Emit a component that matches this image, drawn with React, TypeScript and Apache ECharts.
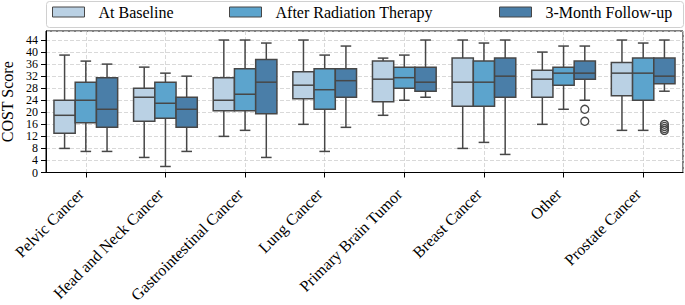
import React, { useEffect, useRef } from "react";
import * as echarts from "echarts";

const categories = [
  "Pelvic Cancer",
  "Head and Neck Cancer",
  "Gastrointestinal Cancer",
  "Lung Cancer",
  "Primary Brain Tumor",
  "Breast Cancer",
  "Other",
  "Prostate Cancer",
];

const seriesNames = ["At Baseline", "After Radiation Therapy", "3-Month Follow-up"];

// [min, q1, median, q3, max]
const baseline = [
  [8, 13, 19, 24, 39],
  [5, 17, 25, 28, 35],
  [12, 20.5, 24, 31.5, 44],
  [16, 24.5, 29, 33.5, 44],
  [19, 23.5, 31, 37, 38],
  [8, 22, 30, 38, 44],
  [16, 25, 31, 34, 40],
  [14, 25.5, 33, 36.5, 44],
];
const afterRT = [
  [7, 16.5, 24, 30, 37],
  [2, 18, 23, 30, 33],
  [14, 20.5, 26, 34.5, 44],
  [7, 21, 27.5, 34.5, 39],
  [24, 28, 31.5, 35, 39],
  [10, 22, 30, 37, 43],
  [21, 29, 33, 35, 42],
  [14, 24, 33, 38, 43],
];
const followUp = [
  [7, 15, 21, 31.5, 36],
  [7, 15, 21, 25, 32],
  [5, 19.5, 30, 37.5, 43],
  [15, 25, 30.5, 34.5, 42],
  [25, 27, 30, 35, 44],
  [6, 25, 32, 38, 44],
  [24, 31, 33, 37, 42],
  [27, 29.5, 32, 38, 44],
];
// [categoryIndex, hueIndex, value]
const outliers = [
  [6, 2, 21],
  [6, 2, 17],
  [7, 2, 16],
  [7, 2, 15.3],
  [7, 2, 14.6],
  [7, 2, 14],
];

const yTicks = [0, 4, 8, 12, 16, 20, 24, 28, 32, 36, 40, 44];

const colors = ["#bad1e4", "#5ca4cd", "#4a7ea8"];
const edge = "#474747";
const FONT = "Liberation Serif";

export default function App() {
  const ref = useRef<HTMLDivElement>(null);
  useEffect(() => {
    if (!ref.current) return;
    const chart = echarts.init(ref.current, null, { renderer: "svg" });
    const allData = [baseline, afterRT, followUp];

    const boxSeries = allData.map((arr, h) => ({
      type: "custom",
      name: seriesNames[h],
      z: 3,
      itemStyle: { color: colors[h] },
      encode: { x: 0, y: [1, 2, 3, 4, 5] },
      data: arr.map((d, i) => [i, ...d]),
      renderItem: (params: any, api: any) => {
        const cat = api.value(0);
        const band = api.size([1, 0])[0];
        const bw = (band * 0.8) / 3;
        const cx = api.coord([cat, 0])[0] + (h - 1) * bw;
        const y = (k: number) => api.coord([cat, api.value(k)])[1];
        const yMin = y(1), yQ1 = y(2), yMed = y(3), yQ3 = y(4), yMax = y(5);
        const ls = { stroke: edge, lineWidth: 1.5 };
        const cap = bw / 4;
        return {
          type: "group",
          children: [
            { type: "line", shape: { x1: cx, y1: yQ3, x2: cx, y2: yMax }, style: ls },
            { type: "line", shape: { x1: cx, y1: yQ1, x2: cx, y2: yMin }, style: ls },
            { type: "line", shape: { x1: cx - cap, y1: yMax, x2: cx + cap, y2: yMax }, style: ls },
            { type: "line", shape: { x1: cx - cap, y1: yMin, x2: cx + cap, y2: yMin }, style: ls },
            {
              type: "rect",
              shape: { x: cx - bw / 2, y: yQ3, width: bw, height: yQ1 - yQ3 },
              style: { fill: colors[h], stroke: edge, lineWidth: 1.5 },
            },
            { type: "line", shape: { x1: cx - bw / 2, y1: yMed, x2: cx + bw / 2, y2: yMed }, style: ls },
          ],
        };
      },
    }));

    const option: any = {
      animation: false,
      textStyle: { fontFamily: FONT },
      grid: {
        left: 46,
        right: 2,
        top: 31,
        bottom: 132.5,
        containLabel: false,
        outerBoundsMode: "none",
        show: true,
        borderColor: "#000",
        borderWidth: 1,
      },
      legend: seriesNames.map((n, i) => ({
        left: [52, 229, 499][i],
        top: 4,
        padding: 0,
        icon: "rect",
        itemWidth: 32,
        itemHeight: 10,
        selectedMode: false,
        textStyle: { fontFamily: FONT, fontSize: 16, color: "#000", lineHeight: 16, padding: [0, 0, 0, 9] },
        data: [{ name: n, itemStyle: { color: colors[i], borderColor: edge, borderWidth: 1 } }],
      })),
      graphic: [
        {
          type: "rect",
          left: 46,
          top: 1,
          z: -1,
          shape: { width: 637, height: 26, r: 3 },
          style: { fill: "#fff", stroke: "#d0d0d0", lineWidth: 1 },
        },
      ],
      xAxis: [
        {
          type: "category",
          data: categories,
          boundaryGap: true,
          axisLine: { show: true, lineStyle: { color: "#000", width: 1 } },
          axisTick: { show: true, alignWithLabel: true, length: 5, lineStyle: { color: "#000" } },
          axisLabel: {
            interval: 0,
            rotate: 45,
            margin: 14,
            padding: [0, 7, 0, 0],
            fontFamily: FONT,
            fontSize: 16,
            color: "#000",
          },
          splitLine: { show: false },
        },
        {
          type: "category",
          position: "top",
          data: categories.flatMap((c) => [c + "-a", c + "-b"]),
          boundaryGap: true,
          axisLine: { show: false },
          axisTick: { show: false },
          axisLabel: { show: false },
          splitLine: {
            show: true,
            interval: (index: number) => index % 2 === 1,
            lineStyle: { type: [4, 2], color: "#cfcfcf", width: 0.8 },
          },
        },
      ],
      yAxis: {
        type: "value",
        min: 0,
        max: 47,
        interval: 4,
        name: "COST Score",
        nameLocation: "middle",
        nameGap: 31,
        nameTextStyle: { fontFamily: FONT, fontSize: 16, color: "#000" },
        axisLine: { show: true, lineStyle: { color: "#000", width: 1 } },
        axisTick: { show: true, length: 5, lineStyle: { color: "#000" } },
        axisLabel: {
          fontFamily: FONT,
          fontSize: 12,
          lineHeight: 10,
          color: "#000",
          showMinLabel: true,
          showMaxLabel: false,
          hideOverlap: false,
          formatter: (v: number) => (yTicks.includes(v) ? String(v) : ""),
        },
        splitLine: { show: true, lineStyle: { type: [4, 2], color: "#cfcfcf", width: 0.8 } },
      },
      series: [
        ...boxSeries,
        {
          type: "custom",
          name: "outliers",
          z: 4,
          encode: { x: 0, y: 2 },
          data: outliers,
          renderItem: (params: any, api: any) => {
            const cat = api.value(0);
            const h = api.value(1);
            const band = api.size([1, 0])[0];
            const bw = (band * 0.8) / 3;
            const p = api.coord([cat, api.value(2)]);
            return {
              type: "circle",
              shape: { cx: p[0] + (h - 1) * bw, cy: p[1], r: 4 },
              style: { fill: "none", stroke: edge, lineWidth: 1.3 },
            };
          },
        },
      ],
    };
    chart.setOption(option);
    return () => chart.dispose();
  }, []);
  return (
    <div
      ref={ref}
      style={{ position: "fixed", left: 0, top: 0, width: 685, height: 305, background: "#fff" }}
    />
  );
}
